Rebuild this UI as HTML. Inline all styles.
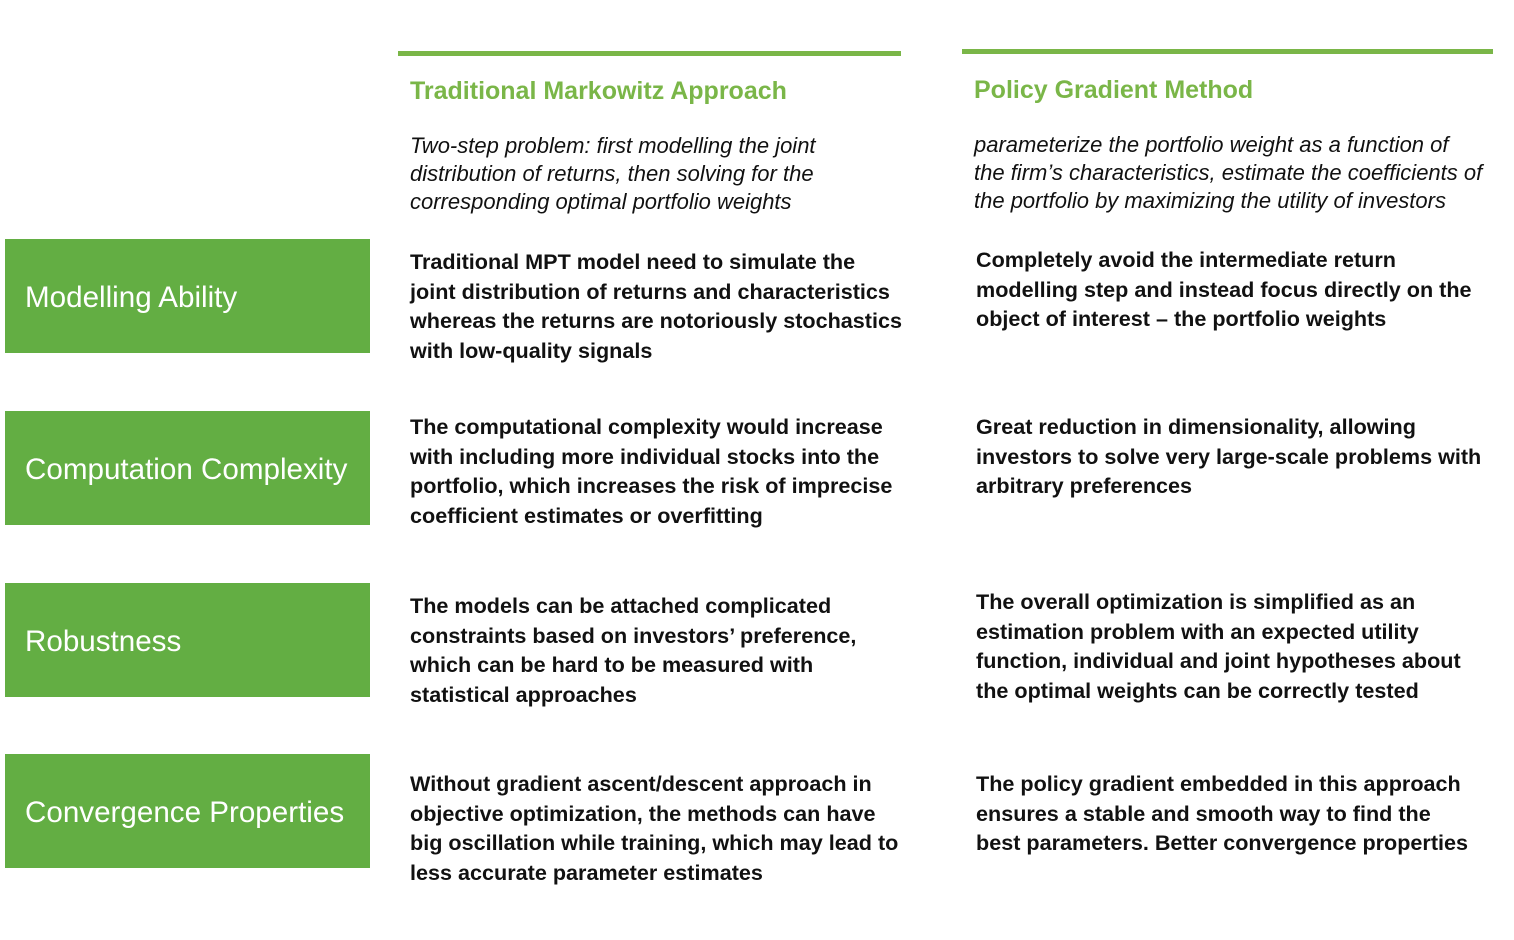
<!DOCTYPE html>
<html><head><meta charset="utf-8">
<style>
body{margin:0;width:1514px;height:940px;background:#fff;position:relative;overflow:hidden;font-family:"Liberation Sans",sans-serif;}
.bar{position:absolute;height:5px;background:#7ab648;}
.h{position:absolute;color:#7ab648;font-weight:bold;font-size:25px;white-space:nowrap;line-height:30px;}
.it{position:absolute;font-style:italic;font-size:22px;line-height:28px;color:#111;white-space:nowrap;}
.b{position:absolute;font-weight:bold;font-size:21.6px;line-height:29.5px;color:#111;white-space:nowrap;}
.box{position:absolute;left:5px;width:365px;height:114px;background:#63ae43;color:#fff;font-size:29.6px;display:flex;align-items:center;padding-left:20px;padding-top:4px;box-sizing:border-box;}
</style></head><body>
<div class="bar" style="left:398px;top:51px;width:503px"></div>
<div class="bar" style="left:962px;top:49px;width:531px"></div>
<div class="h" style="left:410px;top:76px">Traditional Markowitz Approach</div>
<div class="h" style="left:974px;top:75px">Policy Gradient Method</div>
<div class="it" style="left:410px;top:132px">Two-step problem: first modelling the joint<br>distribution of returns, then solving for the<br>corresponding optimal portfolio weights</div>
<div class="it" style="left:974px;top:131px">parameterize the portfolio weight as a function of<br>the firm’s characteristics, estimate the coefficients of<br>the portfolio by maximizing the utility of investors</div>

<div class="box" style="top:239px">Modelling Ability</div>
<div class="box" style="top:411px">Computation Complexity</div>
<div class="box" style="top:583px">Robustness</div>
<div class="box" style="top:754px">Convergence Properties</div>

<div class="b" style="left:410px;top:247px">Traditional MPT model need to simulate the<br>joint distribution of returns and characteristics<br>whereas the returns are notoriously stochastics<br>with low-quality signals</div>
<div class="b" style="left:976px;top:245px">Completely avoid the intermediate return<br>modelling step and instead focus directly on the<br>object of interest – the portfolio weights</div>
<div class="b" style="left:410px;top:412px">The computational complexity would increase<br>with including more individual stocks into the<br>portfolio, which increases the risk of imprecise<br>coefficient estimates or overfitting</div>
<div class="b" style="left:976px;top:412px">Great reduction in dimensionality, allowing<br>investors to solve very large-scale problems with<br>arbitrary preferences</div>
<div class="b" style="left:410px;top:591px">The models can be attached complicated<br>constraints based on investors’ preference,<br>which can be hard to be measured with<br>statistical approaches</div>
<div class="b" style="left:976px;top:587px">The overall optimization is simplified as an<br>estimation problem with an expected utility<br>function, individual and joint hypotheses about<br>the optimal weights can be correctly tested</div>
<div class="b" style="left:410px;top:769px">Without gradient ascent/descent approach in<br>objective optimization, the methods can have<br>big oscillation while training, which may lead to<br>less accurate parameter estimates</div>
<div class="b" style="left:976px;top:769px">The policy gradient embedded in this approach<br>ensures a stable and smooth way to find the<br>best parameters. Better convergence properties</div>
</body></html>
